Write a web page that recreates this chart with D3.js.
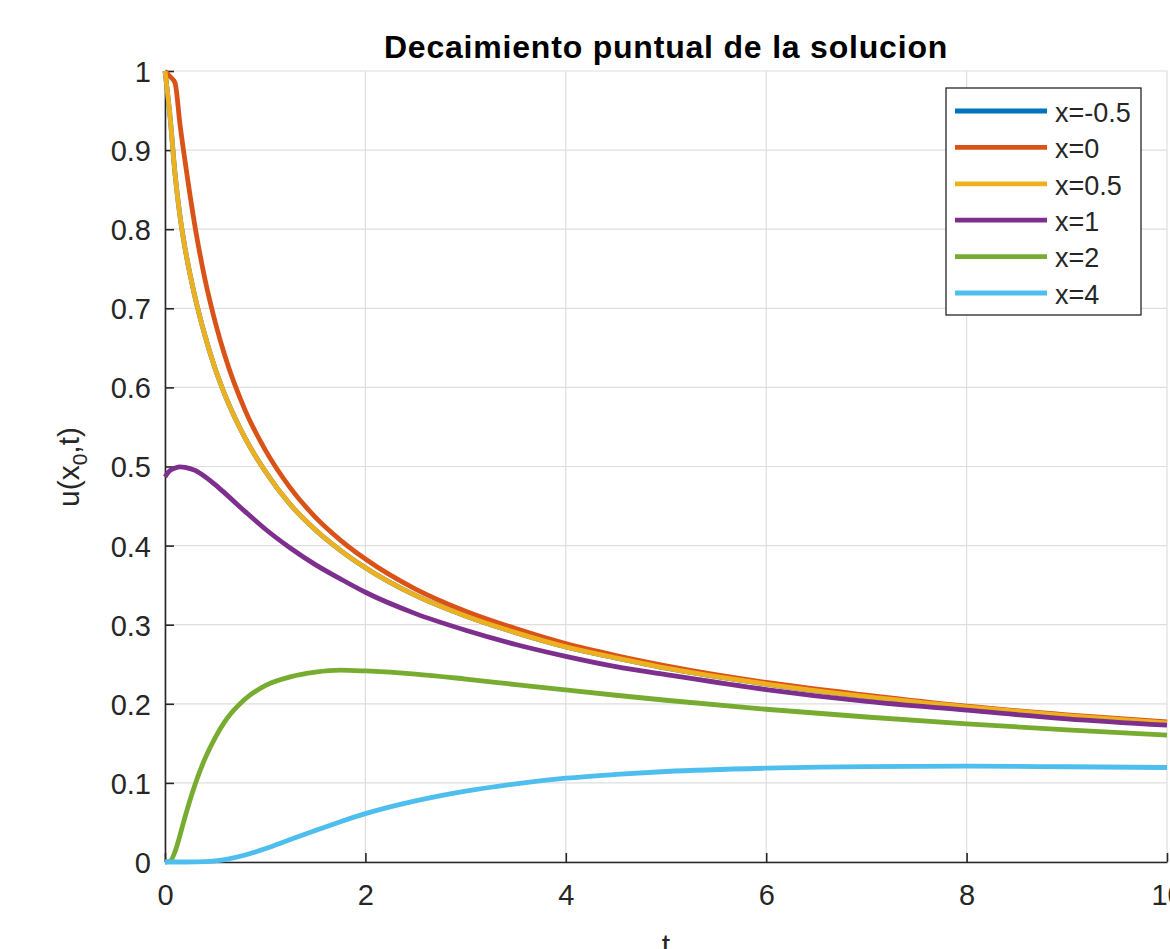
<!DOCTYPE html>
<html>
<head>
<meta charset="utf-8">
<script src="https://cdn.jsdelivr.net/npm/d3@7"></script>
<style>
  html, body { margin: 0; padding: 0; background: #fff; }
  svg { display: block; font-family: "Liberation Sans", Arial, Helvetica, sans-serif; }
</style>
</head>
<body>
<svg id="chart" width="1170" height="949"></svg>
<script>
// ---- data ----
const tValues = [0, 0.05, 0.1, 0.15, 0.2, 0.3, 0.4, 0.5, 0.6, 0.8, 1, 1.25, 1.5, 1.75, 2, 2.5, 3, 3.5, 4, 4.5, 5, 6, 7, 8, 9, 10];
const uXm05 = [1, 0.943, 0.87, 0.816, 0.776, 0.714, 0.665, 0.624, 0.590, 0.536, 0.494, 0.452, 0.420, 0.394, 0.372, 0.337, 0.311, 0.290, 0.272, 0.258, 0.245, 0.225, 0.209, 0.196, 0.185, 0.176];
const uX0   = [1, 0.993, 0.985, 0.932, 0.886, 0.803, 0.736, 0.683, 0.639, 0.571, 0.521, 0.473, 0.436, 0.407, 0.383, 0.345, 0.317, 0.295, 0.276, 0.261, 0.248, 0.227, 0.211, 0.197, 0.186, 0.177];
const uX05  = [1, 0.943, 0.87, 0.816, 0.776, 0.714, 0.665, 0.624, 0.590, 0.536, 0.494, 0.452, 0.420, 0.394, 0.372, 0.337, 0.311, 0.290, 0.272, 0.258, 0.245, 0.225, 0.209, 0.196, 0.185, 0.176];
const uX1   = [0.487, 0.495, 0.498, 0.4996, 0.499, 0.495, 0.487, 0.477, 0.466, 0.443, 0.421, 0.397, 0.376, 0.358, 0.341, 0.314, 0.293, 0.275, 0.260, 0.247, 0.237, 0.218, 0.203, 0.192, 0.181, 0.173];
const uX2   = [0, 0.001, 0.013, 0.034, 0.057, 0.098, 0.131, 0.157, 0.178, 0.206, 0.223, 0.234, 0.240, 0.2425, 0.2415, 0.2376, 0.2313, 0.2243, 0.2175, 0.2108, 0.2045, 0.1931, 0.1833, 0.1746, 0.1671, 0.1603];
const uX4   = [0, 0, 0, 0, 0, 0.0001, 0.0004, 0.0013, 0.0031, 0.0088, 0.0168, 0.0284, 0.0398, 0.051, 0.0611, 0.0772, 0.0896, 0.0988, 0.1059, 0.1107, 0.1144, 0.1186, 0.1207, 0.1211, 0.1204, 0.1195];
const seriesLabels = ["x=-0.5", "x=0", "x=0.5", "x=1", "x=2", "x=4"];
const seriesColors = ["#0072BD", "#D95319", "#EDB120", "#7E2F8E", "#77AC30", "#4DBEEE"];
const xTicks = [0, 2, 4, 6, 8, 10];
const yTicks = [0, 0.1, 0.2, 0.3, 0.4, 0.5, 0.6, 0.7, 0.8, 0.9, 1];
const titleText = "Decaimiento puntual de la solucion";
const xLabelText = "t";

const seriesValues = [uXm05, uX0, uX05, uX1, uX2, uX4];

// ---- layout ----
const mLeft = 165, mRight = 1167, mTop = 71, mBottom = 862;
const svg = d3.select("#chart");
const x = d3.scaleLinear().domain([0, 10]).range([mLeft, mRight]);
const y = d3.scaleLinear().domain([0, 1]).range([mBottom, mTop]);
const axisColor = "#262626";

// grid
svg.append("g").selectAll("line").data(xTicks).join("line")
  .attr("x1", d => x(d)).attr("x2", d => x(d)).attr("y1", mTop).attr("y2", mBottom)
  .attr("stroke", "#dedede").attr("stroke-width", 1.2);
svg.append("g").selectAll("line").data(yTicks).join("line")
  .attr("x1", mLeft).attr("x2", mRight).attr("y1", d => y(d)).attr("y2", d => y(d))
  .attr("stroke", "#dedede").attr("stroke-width", 1.2);

// axes
const xAxis = d3.axisBottom(x).tickValues(xTicks).tickSizeInner(-9).tickSizeOuter(0).tickPadding(22).tickFormat(d3.format("d"));
const gx = svg.append("g").attr("transform", `translate(0,${mBottom})`).call(xAxis);
const yAxis = d3.axisLeft(y).tickValues(yTicks).tickSizeInner(-9).tickSizeOuter(0).tickPadding(14).tickFormat(d => d === 0 || d === 1 ? String(d) : d3.format(".1f")(d));
const gy = svg.append("g").attr("transform", `translate(${mLeft},0)`).call(yAxis);
[gx, gy].forEach(g => {
  g.select(".domain").attr("stroke", axisColor).attr("stroke-width", 1.6);
  g.selectAll(".tick line").attr("stroke", axisColor).attr("stroke-width", 1.6);
  g.selectAll(".tick text").attr("fill", axisColor).style("font-size", "29px")
    .style("font-family", '"Liberation Sans", Arial, sans-serif');
});
gx.selectAll(".tick text").attr("dy", "0.71em");
gy.selectAll(".tick text").attr("dy", "0.36em");

// lines
const line = d3.line().x((d, i) => x(tValues[i])).y(d => y(d)).curve(d3.curveMonotoneX);
seriesValues.forEach((vals, k) => {
  svg.append("path").datum(vals).attr("d", line)
    .attr("fill", "none").attr("stroke", seriesColors[k]).attr("stroke-width", 4.8)
    .attr("stroke-linejoin", "round").attr("stroke-linecap", "butt");
});

// title
svg.append("text").attr("x", (mLeft + mRight) / 2).attr("y", 58).attr("text-anchor", "middle")
  .attr("font-weight", "bold").style("font-size", "32px").style("letter-spacing", "0.8px")
  .attr("fill", "#000").text(titleText);

// x label
svg.append("text").attr("x", x(5)).attr("y", 955).attr("text-anchor", "middle")
  .style("font-size", "30px").attr("fill", axisColor).text(xLabelText);

// y label: u(x_0,t)
const yl = svg.append("text").attr("transform", `translate(79,467) rotate(-90)`)
  .attr("text-anchor", "middle").style("font-size", "30px").attr("fill", axisColor);
yl.append("tspan").text("u(x");
yl.append("tspan").attr("dy", 8).style("font-size", "21px").text("0");
yl.append("tspan").attr("dy", -8).text(",t)");

// legend
const lg = svg.append("g");
lg.append("rect").attr("x", 946).attr("y", 88).attr("width", 195).attr("height", 227)
  .attr("fill", "#fff").attr("stroke", axisColor).attr("stroke-width", 1.3);
const rowY = d3.scaleLinear().domain([0, 5]).range([111, 293]);
seriesLabels.forEach((lab, k) => {
  lg.append("line").attr("x1", 955).attr("x2", 1047).attr("y1", rowY(k)).attr("y2", rowY(k))
    .attr("stroke", seriesColors[k]).attr("stroke-width", 4.8);
  lg.append("text").attr("x", 1055).attr("y", rowY(k)).attr("dy", "0.4em")
    .style("font-size", "27px").attr("fill", axisColor).text(lab);
});
</script>
</body>
</html>
